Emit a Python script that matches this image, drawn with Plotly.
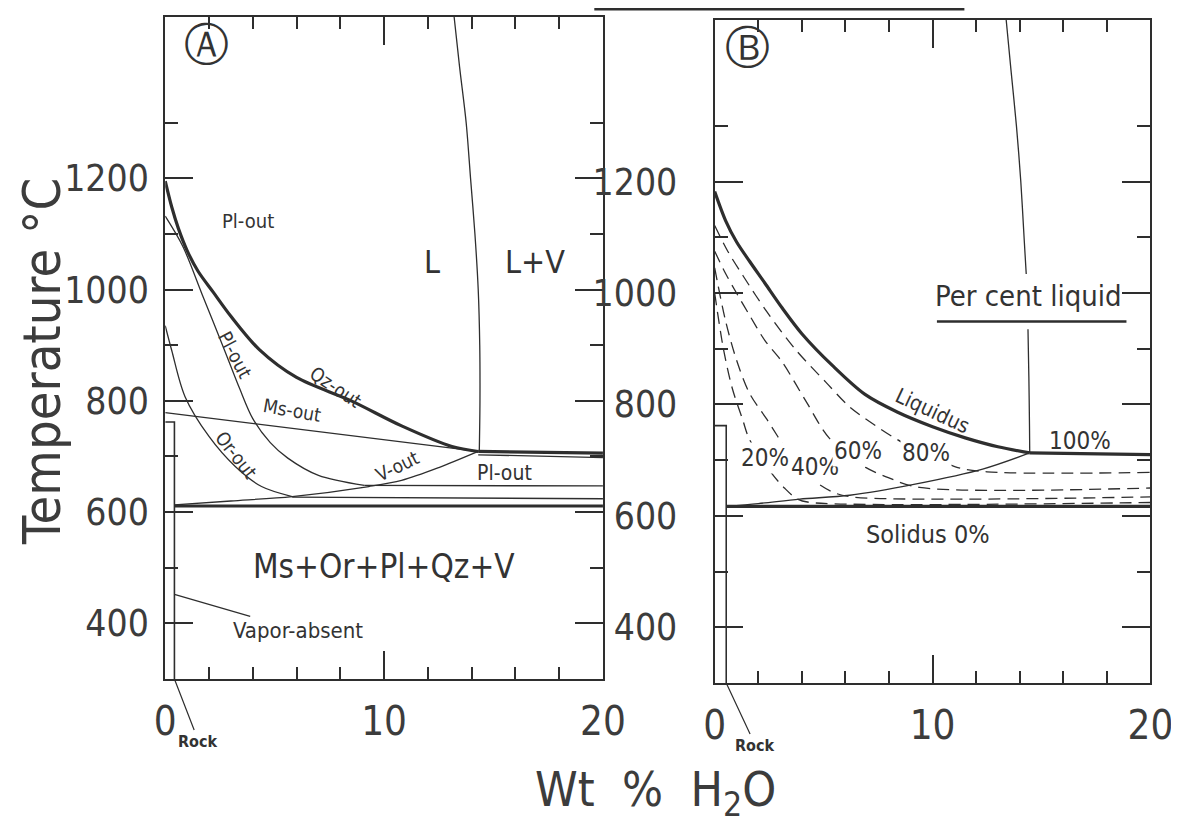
import plotly.graph_objects as go

# ---------------- data: x = wt % H2O, T = temperature (°C) ----------------
# Panel A
A_qz_x = [0, 0.3, 0.6, 1.0, 1.5, 2.2, 3.0, 4.3, 6.0, 8.5, 10.8, 13.1, 14.3]
A_qz_T = [1195, 1148, 1110, 1070, 1033, 995, 952, 892, 842, 800, 755, 718, 709]
A_qz_flat_x = [14.3, 20]
A_qz_flat_T = [709, 706]
A_pl_x = [0, 0.8, 1.7, 2.7, 3.4, 4.0, 4.8, 5.6, 7.0, 9.1]
A_pl_T = [1132, 1078, 990, 892, 822, 768, 725, 697, 666, 648]
A_pl_flat_x = [9.1, 20]
A_pl_flat_T = [648, 647]
A_ms_x = [0, 14.3]
A_ms_T = [779, 709]
A_ms_flat_x = [14.3, 20]
A_ms_flat_T = [703, 698]
A_or_x = [0, 0.3, 0.9, 2.0, 3.2, 4.4, 5.8]
A_or_T = [935, 890, 808, 736, 682, 646, 628]
A_or_flat_x = [5.8, 20]
A_or_flat_T = [627, 624]
A_v_x = [0.42, 3.0, 5.8, 9.3, 10.8, 12.5, 14.3]
A_v_T = [613, 620, 628, 646, 657, 680, 709]
A_sol_x = [0.42, 20]
A_sol_T = [611, 611]
A_lv_x = [13.2, 13.45, 13.75, 13.95, 14.15, 14.3, 14.37, 14.38, 14.35]
A_lv_T = [1490, 1400, 1300, 1200, 1100, 1000, 900, 800, 709]
A_rock_x = [0, 0.42, 0.42]
A_rock_T = [762, 762, 300]

# Panel B
B_liq_x = [0, 0.5, 1.0, 1.6, 2.3, 3.1, 4.0, 5.4, 6.9, 8.4, 10.0, 11.5, 13.0, 14.46]
B_liq_T = [1182, 1130, 1092, 1057, 1018, 973, 927, 870, 818, 786, 760, 740, 724, 713]
B_liq_flat_x = [14.46, 20]
B_liq_flat_T = [713, 710]
B_v_x = [0.53, 2.0, 3.9, 6.2, 9.2, 12.3, 14.46]
B_v_T = [617, 622, 630, 637, 657, 684, 713]
B_sol_x = [0.53, 20]
B_sol_T = [617, 617]
B_p20_x = [0, 0.4, 0.8, 1.28, 1.6, 2.6, 3.2, 3.8, 4.4, 20]
B_p20_T = [1000, 900, 830, 773, 737, 677, 650, 630, 624, 624]
B_p40_x = [0, 0.5, 1.0, 1.6, 2.4, 3.4, 4.34, 5.4, 6.3, 20]
B_p40_T = [1045, 950, 880, 820, 773, 713, 670, 643, 634, 634]
B_p60_x = [0, 0.5, 1.0, 1.6, 2.3, 3.1, 4.2, 5.25, 6.8, 8.0, 9.4, 20]
B_p60_T = [1075, 1035, 1000, 960, 915, 876, 805, 740, 690, 668, 651, 650]
B_p80_x = [0, 0.6, 1.3, 2.4, 3.7, 5.1, 6.15, 6.9, 8.6, 11.05, 12.5, 20]
B_p80_T = [1121, 1075, 1031, 966, 899, 840, 797, 775, 732, 688, 679, 678]
B_lv_x = [13.38, 13.6, 13.85, 14.05, 14.2, 14.3, None, 14.38, 14.42, 14.45, 14.46]
B_lv_T = [1490, 1400, 1300, 1200, 1100, 1034, None, 935, 850, 760, 713]
B_rock_x = [0, 0.53, 0.53]
B_rock_T = [762, 762, 300]

# axes ticks
X_RANGE = [0, 20]
Y_RANGE = [300, 1490]
X_major = [0, 10, 20]
X_minor = [2, 4, 6, 8, 12, 14, 16, 18]
Y_major = [400, 600, 800, 1000, 1200]
Y_minor = [500, 700, 900, 1100, 1300]

INK = "#2e2e2e"
TXT = "#3c3c3c"
FONT = "Liberation Sans Narrow, DejaVu Sans Condensed, Liberation Sans, sans-serif"
THIN = 1.3
THICK = 3.2

# page body keeps an 8 px margin; horizontal placement calibrated against render
OFF = 8
SX, BX = 0.976, 7.9
W, H = 1179 - OFF, 824 - OFF

fig = go.Figure()


def add_line(xs, ys, panel, width=THIN, dash="solid", smooth=True):
    fig.add_trace(go.Scatter(
        x=xs, y=ys, mode="lines", xaxis="x" if panel == 1 else "x2",
        yaxis="y" if panel == 1 else "y2",
        line=dict(color=INK, width=width, dash=dash,
                  shape="spline" if smooth else "linear", smoothing=0.9),
        hoverinfo="skip", showlegend=False, connectgaps=False))


# Panel A lines
add_line(A_qz_x, A_qz_T, 1, THICK)
add_line(A_qz_flat_x, A_qz_flat_T, 1, THICK)
add_line(A_pl_x, A_pl_T, 1)
add_line(A_pl_flat_x, A_pl_flat_T, 1)
add_line(A_ms_x, A_ms_T, 1)
add_line(A_ms_flat_x, A_ms_flat_T, 1)
add_line(A_or_x, A_or_T, 1)
add_line(A_or_flat_x, A_or_flat_T, 1)
add_line(A_v_x, A_v_T, 1)
add_line(A_sol_x, A_sol_T, 1, THICK)
add_line(A_lv_x, A_lv_T, 1)
add_line(A_rock_x, A_rock_T, 1, 1.6, smooth=False)

# Panel B lines
DASH = "12px,7px"
add_line(B_liq_x, B_liq_T, 2, THICK)
add_line(B_liq_flat_x, B_liq_flat_T, 2, THICK)
add_line(B_v_x, B_v_T, 2)
add_line(B_sol_x, B_sol_T, 2, THICK)
add_line(B_p20_x, B_p20_T, 2, THIN, DASH)
add_line(B_p40_x, B_p40_T, 2, THIN, DASH)
add_line(B_p60_x, B_p60_T, 2, THIN, DASH)
add_line(B_p80_x, B_p80_T, 2, THIN, DASH)
add_line(B_lv_x, B_lv_T, 2)
add_line(B_rock_x, B_rock_T, 2, 1.6, smooth=False)


def fx(ref_px):
    return ((ref_px - BX) / SX - OFF) / W


def fy(ref_px):
    return 1 - (ref_px - OFF) / H


def xax(domain, anchor):
    return dict(
        domain=domain, anchor=anchor, range=X_RANGE, showgrid=False, zeroline=False,
        showline=True, linewidth=2, linecolor=INK, mirror="ticks",
        ticks="inside", ticklen=28, tickwidth=2, tickcolor=INK,
        tickmode="array", tickvals=X_major, ticktext=[str(v) for v in X_major],
        minor=dict(tickmode="array", tickvals=X_minor, ticks="inside", ticklen=12,
                   tickwidth=2, tickcolor=INK, showgrid=False),
        tickfont=dict(family=FONT, size=40, color=TXT), ticklabelstandoff=6)


def yax(domain, anchor, standoff):
    return dict(
        domain=domain, anchor=anchor, range=Y_RANGE, showgrid=False, zeroline=False,
        showline=True, linewidth=2, linecolor=INK, mirror="ticks",
        ticks="inside", ticklen=28, tickwidth=2, tickcolor=INK,
        tickmode="array", tickvals=Y_major, ticktext=[str(v) for v in Y_major],
        minor=dict(tickmode="array", tickvals=Y_minor, ticks="inside", ticklen=13,
                   tickwidth=2, tickcolor=INK, showgrid=False),
        tickfont=dict(family=FONT, size=37, color=TXT), ticklabelstandoff=standoff)


fig.update_layout(
    width=W, height=H, margin=dict(l=0, r=0, t=0, b=0),
    paper_bgcolor="white", plot_bgcolor="white", showlegend=False,
    xaxis=xax([fx(162.7), fx(602.7)], "y"),
    yaxis=yax([fy(679), fy(17)], "x", 7),
    xaxis2=xax([fx(715), fx(1153)], "y2"),
    yaxis2=yax([fy(683), fy(20)], "x2", 28),
)

ann = []


def label(text, x, y, panel, size=20, angle=0, **kw):
    d = dict(text=text, x=x, y=y, xref="x" if panel == 1 else "x2",
             yref="y" if panel == 1 else "y2", showarrow=False, textangle=angle,
             xanchor="center", yanchor="middle",
             font=dict(family=FONT, size=size, color="#333333"))
    d.update(kw)
    ann.append(d)


# Panel A labels
label("Ⓐ", 1.9, 1440, 1, font=dict(family="DejaVu Sans", size=45, color="#333"))
label("Pl-out", 3.8, 1123, 1, 20)
label("L", 12.2, 1050, 1, 32)
label("L+V", 16.9, 1050, 1, 32)
label("Qz-out", 7.8, 824, 1, 19, 34)
label("Pl-out", 3.2, 882, 1, 19, 62)
label("Ms-out", 5.8, 783, 1, 19, 10)
label("Or-out", 3.25, 702, 1, 19, 52)
label("V-out", 10.6, 682, 1, 19, -26)
label("Pl-out", 15.5, 671, 1, 21)
label("Ms+Or+Pl+Qz+V", 10.0, 502, 1, 33)
label("Vapor-absent", 0.42, 452, 1, 22, showarrow=True, axref="pixel", ayref="pixel",
      ax=124, ay=36, arrowhead=0, arrowwidth=1.2, arrowcolor=INK)
label("<b>Rock</b>", 0.42, 300, 1, 16, showarrow=True, ax=24, ay=62,
      arrowhead=0, arrowwidth=1.2, arrowcolor=INK)

# Panel B labels
label("Ⓑ", 1.5, 1440, 2, font=dict(family="DejaVu Sans", size=45, color="#333"))
label("Per cent liquid", 14.4, 995, 2, 29)
label("Liquidus", 10.0, 788, 2, 21, 25)
label("20%", 2.3, 704, 2, 24, bgcolor="white")
label("40%", 4.6, 687, 2, 24, bgcolor="white")
label("60%", 6.6, 716, 2, 24, bgcolor="white")
label("80%", 9.7, 713, 2, 24, bgcolor="white")
label("100%", 16.75, 735, 2, 24)
label("Solidus 0%", 9.8, 566, 2, 25)
label("<b>Rock</b>", 0.53, 300, 2, 16, showarrow=True, ax=29, ay=62,
      arrowhead=0, arrowwidth=1.2, arrowcolor=INK)

# shared axis titles (paper coordinates)
ann.append(dict(text="Temperature °C", x=fx(39), y=fy(362),
                xref="paper", yref="paper", xanchor="center", yanchor="middle",
                showarrow=False, textangle=-90,
                font=dict(family=FONT, size=52, color=TXT)))
ann.append(dict(text="Wt  %  H<sub>2</sub>O", x=fx(656), y=fy(792),
                xref="paper", yref="paper", xanchor="center", yanchor="middle",
                showarrow=False, font=dict(family=FONT, size=48, color=TXT)))
fig.update_layout(annotations=ann)

# underline of "Per cent liquid" and the scan border at the top of the page
fig.add_shape(type="line", xref="x2", yref="y2", x0=10.2, x1=18.9, y0=949, y1=949,
              line=dict(color=INK, width=2.5))
fig.add_shape(type="line", xref="paper", yref="paper", x0=fx(594), x1=fx(966),
              y0=1.0, y1=1.0, line=dict(color=INK, width=5))

fig.write_html("out.html")
